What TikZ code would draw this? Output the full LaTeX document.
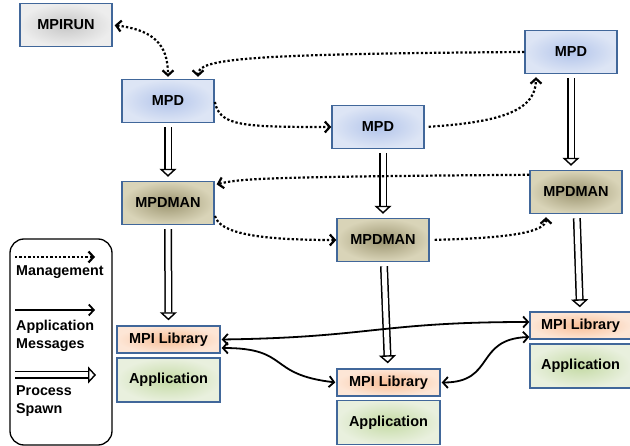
\documentclass[tikz,border=0pt]{standalone}
\usepackage{fontspec}
\setmainfont{Liberation Sans}
\usetikzlibrary{positioning,arrows.meta,calc}

\definecolor{boxblue}{HTML}{41679A}
\definecolor{runin}{HTML}{C6C6C6}
\definecolor{runout}{HTML}{EDEDED}
\definecolor{mpdin}{HTML}{B2C4EA}
\definecolor{mpdout}{HTML}{DDE5F5}
\definecolor{manin}{HTML}{9C9570}
\definecolor{manout}{HTML}{D9D4B8}
\definecolor{libin}{HTML}{F8BE96}
\definecolor{libout}{HTML}{FDE6D6}
\definecolor{appin}{HTML}{C4DAA4}
\definecolor{appout}{HTML}{E9F0DE}

\tikzset{
	box/.style={draw=boxblue, line width=1.4pt, minimum width=92pt, minimum height=43pt,
		font=\fontsize{14.5}{16}\selectfont\bfseries},
	runbox/.style={box, inner color=runin, outer color=runout},
	mpdbox/.style={box, inner color=mpdin, outer color=mpdout},
	manbox/.style={box, inner color=manin, outer color=manout},
	libbox/.style={box, minimum width=103pt, minimum height=27pt, inner color=libin, outer color=libout},
	appbox/.style={box, minimum width=103pt, minimum height=44pt, inner color=appin, outer color=appout},
	mgmt/.style={line width=2.2pt, dash pattern=on 2.3pt off 2.1pt},
	appmsg/.style={line width=1.8pt},
	spawn/.style={line width=1.5pt, double=white, double distance=5pt,
		-{Triangle[open, fill=white, length=8pt, width=17pt, line width=1.4pt]}},
	legtext/.style={font=\fontsize{14.3}{18}\selectfont\bfseries, align=left, inner sep=0pt}
}

\begin{document}
\begin{tikzpicture}[x=1pt,y=-1pt,>={Straight Barb[length=5pt,width=11pt]}]
	\useasboundingbox (0,0) rectangle (630,446);

	% daemons
	\node[runbox] (mpirun) at (66,25) {MPIRUN};
	\node[mpdbox] (mpd1) at (168,101) {MPD};
	\node[mpdbox] (mpd2) at (378,127) {MPD};
	\node[mpdbox] (mpd3) at (571,52) {MPD};

	\node[manbox] (man1) at (168,203) {MPDMAN};
	\node[manbox] (man2) at (383,240) {MPDMAN};
	\node[manbox] (man3) at (576,192) {MPDMAN};

	% processes
	\node[libbox] (lib1) at (168.5,339.5) {MPI Library};
	\node[appbox] (app1) at (168.5,380) {Application};
	\node[libbox] (lib2) at (388.5,382.5) {MPI Library};
	\node[appbox] (app2) at (388.5,422.5) {Application};
	\node[libbox, minimum width=101pt] (lib3) at (580.5,325.5) {MPI Library};
	\node[appbox, minimum width=101pt] (app3) at (580.5,366) {Application};

	% spawn
	\draw[spawn, shorten <=4pt, shorten >=4pt] (mpd1) -- (man1);
	\draw[spawn, shorten <=4pt, shorten >=5pt] (man1) -- (lib1);
	\draw[spawn, shorten <=4pt, shorten >=4pt] (mpd2.south -| man2) -- (man2);
	\draw[spawn, shorten <=4pt, shorten >=5pt] (man2) -- (lib2);
	\draw[spawn, shorten <=4pt, shorten >=4pt] (mpd3.south) -- (mpd3.south |- man3.north);
	\draw[spawn, shorten <=4pt, shorten >=4pt] (man3) -- (lib3);

	% management
	\draw[mgmt,<->, shorten <=2pt, shorten >=2pt] (mpirun.east) .. controls +(40,5) and +(0,-35) .. (mpd1.north);
	\draw[mgmt,->, shorten >=2pt] (mpd3.west) .. controls +(-280,2) and +(0,-20) .. ([xshift=30pt]mpd1.north);
	\draw[mgmt,->, shorten <=1pt] (mpd1.east) .. controls +(5,25) and +(-90,0) .. (mpd2.west);
	\draw[mgmt,->, shorten <=4pt, shorten >=3pt] (mpd2.east) .. controls +(80,-5) and +(0,35) .. ([xshift=-35pt]mpd3.south);
	\draw[mgmt,->, shorten >=2pt] ([yshift=-5pt]man3.north west) .. controls +(-270,2) and +(25,-6) .. ([yshift=-4pt]man1.north east);
	\draw[mgmt,->, shorten <=1pt] ([yshift=-12pt]man1.east) .. controls +(5,18) and +(-80,0) .. (man2.west);
	\draw[mgmt,->, shorten <=5pt, shorten >=3pt] (man2.east) .. controls +(80,-2) and +(0,18) .. ([xshift=-30pt]man3.south);

	% application messages
	\draw[appmsg,<->, shorten <=1pt] (lib1.east) .. controls +(150,-2) and +(-150,0) .. ([yshift=3.5pt]lib3.west);
	\draw[appmsg,<->, shorten <=1pt, shorten >=1pt] ([yshift=-8.5pt]lib1.east) .. controls +(70,0) and +(-70,-8) .. (lib2.west);
	\draw[appmsg,<->, shorten <=1pt] (lib2.east) .. controls +(55,0) and +(-55,2) .. ([yshift=-11.5pt]lib3.west);

	% legend
	\node[draw, line width=1.3pt, rounded corners=14pt, minimum width=102pt, minimum height=206pt] (legend) at (61,342) {};
	\coordinate (lg1a) at (15,257);
	\coordinate (lg1b) at (95,257);
	\coordinate (lg2a) at (15,310);
	\coordinate (lg2b) at (95,310);
	\coordinate (lg3a) at (15,375);
	\coordinate (lg3b) at (96,375);
	\draw[mgmt,->] (lg1a) -- (lg1b);
	\draw[appmsg,->] (lg2a) -- (lg2b);
	\draw[spawn] (lg3a) -- (lg3b);
	\node[legtext, anchor=west] (mgmttxt) at (16,272) {Management};
	\node[legtext, anchor=north west] (msgtxt) at (16,320) {Application\\Messages};
	\node[legtext, anchor=north west] (spawntxt) at (16,385) {Process\\Spawn};
\end{tikzpicture}
\end{document}
